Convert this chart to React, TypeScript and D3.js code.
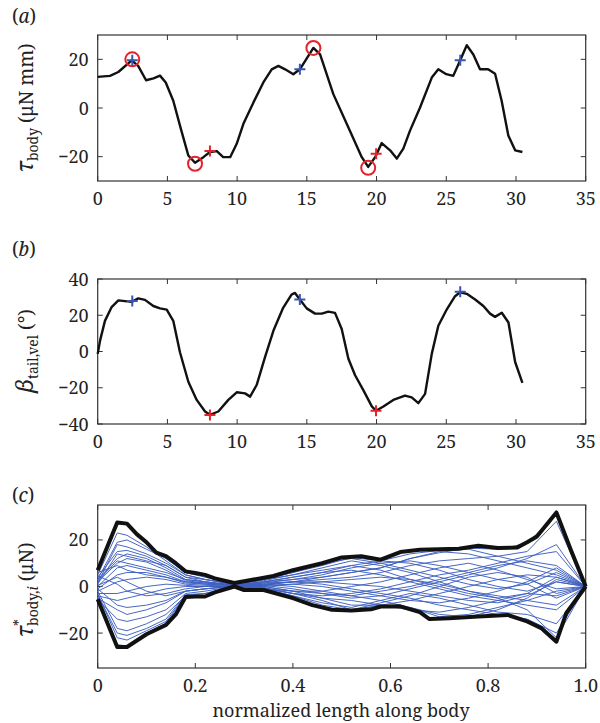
import React from "react";
import * as d3 from "d3";

// ---------- DATA ----------
// Panel (a): body torque vs time
const aTime = [0, 0.88, 1.48, 2.44, 2.9, 3.47, 4.0, 4.47, 4.88, 5.42, 6.0, 6.5, 6.98, 7.58, 8.05, 8.54, 9.0, 9.5, 9.97, 10.45, 11.17, 11.88, 12.48, 12.96, 13.44, 14.03, 14.5, 15.47, 15.95, 16.9, 17.86, 18.94, 19.4, 19.9, 20.37, 20.97, 21.45, 21.92, 22.4, 23.12, 23.96, 24.43, 25.0, 25.5, 26.0, 26.47, 26.94, 27.42, 28.0, 28.5, 28.97, 29.45, 29.94, 30.46];
const aTorque = [12.8, 13.2, 14.8, 19.6, 17.3, 11.4, 12.2, 13.3, 10.5, 3, -9.3, -19.5, -22.5, -20.2, -18.1, -17.7, -20.2, -20.2, -14.7, -6.5, 2.3, 10.5, 15.9, 17.3, 15.9, 13.9, 15.9, 24.7, 22, 5.7, -6.5, -20.2, -24.2, -20.2, -14.4, -17.4, -20.8, -16.7, -9.3, 0.2, 12.5, 15.9, 13.9, 13.2, 19.6, 25.8, 22, 15.9, 15.9, 14.1, 3, -11.3, -17.4, -18.1];
const aCircleT = [2.48, 6.98, 15.47, 19.4];
const aCircleV = [20, -22.9, 24.7, -24.6];
const aBlueT = [2.48, 14.5, 26.0];
const aBlueV = [19.6, 15.9, 19.6];
const aRedT = [8.05, 19.97];
const aRedV = [-17.7, -18.8];

// Panel (b): tail velocity angle vs time
const bTime = [0, 0.17, 0.52, 1.0, 1.48, 1.96, 2.44, 2.91, 3.39, 3.99, 4.47, 4.95, 5.42, 5.9, 6.5, 7.1, 7.7, 8.05, 8.65, 9.37, 9.97, 10.57, 10.93, 11.4, 12.0, 12.6, 13.3, 13.9, 14.15, 14.5, 14.99, 15.59, 16.07, 16.54, 17.02, 17.5, 17.98, 18.46, 19.05, 19.66, 19.96, 20.49, 21.2, 22.04, 22.52, 23.0, 23.48, 23.96, 24.43, 25.04, 25.63, 25.99, 26.47, 27.07, 27.66, 28.14, 28.5, 28.98, 29.46, 29.94, 30.46];
const bAngle = [-1.3, 6, 16.9, 24.5, 28.2, 27.8, 27.4, 29.3, 28.5, 25.1, 23.8, 23.1, 16.9, -0.4, -16.7, -26.7, -33.1, -34.9, -33.1, -26.7, -22.5, -23.1, -24.9, -18.5, -3.1, 11.4, 24.1, 31.4, 32.3, 28.7, 23.8, 20.9, 20.9, 22, 21.3, 12.4, -4, -13.1, -21.3, -30.3, -32.7, -30.3, -26.7, -24.3, -25.3, -28.5, -23.4, -1.3, 14.2, 23.3, 30.5, 32.7, 31.8, 28.7, 25.1, 20.9, 19.1, 21.4, 16, -5.8, -17.3];
const bBlueT = [2.48, 14.5, 26.0];
const bBlueV = [27.8, 28.7, 32.9];
const bRedT = [8.05, 19.96];
const bRedV = [-35, -32.7];

// Panel (c): normalized torque along body
const cGrid = [0, 0.04, 0.06, 0.1, 0.14, 0.18, 0.22, 0.28, 0.34, 0.4, 0.46, 0.52, 0.58, 0.64, 0.7, 0.76, 0.82, 0.88, 0.94, 1.0];
const cLines: number[][] = [
  [7, 27, 26.5, 18, 12, 6, 4.5, 1.2, 2.5, 5, 8, 11, 9, 6, 2, -2, -5, -3, 4, 0],
  [5, 23, 22, 17, 11, 5, 3, 1, 3, 6, 9, 12.5, 11, 14, 15.5, 16, 13, 10, 7, 0],
  [4, 15, 15.5, 13, 9, 4, 3, 0.8, 2, 3, 4, 6, 8, 12, 14.5, 16.5, 16, 18.5, 31, 0],
  [3, 12, 14, 12, 8, 3, 2, 0.6, 1, 0, -2, -4, -6, -9, -12, -13, -10, -5, 3, 0],
  [2, 10, 12, 10.5, 7, 2.5, 1.5, 0.5, 0.5, -1, -3, -5, -4, -1, 2, 5, 8, 12, 18, 0],
  [1, 14, 13, 11, 9, 4, 2, 0.7, 2, 4, 6, 7, 5, 2, -1, -4, -6, -8, -10, 0],
  [0, 8, 9, 7, 5, 2, 1, 0.4, 0, -2, -5, -8, -8, -6, -3, 0, 3, 5, 4, 0],
  [-1, 5, 6, 6, 4, 1.5, 1, 0.3, -0.5, -3, -6, -10, -8, -9, -13, -12, -9, -6, -2, 0],
  [-2, 2, 3, 4, 3, 1, 0.5, 0.2, 1, 2, 3, 4, 6, 9, 11, 12, 13, 15, 28, 0],
  [-3, -3, -2, 0, 1, 0.5, 0, 0.1, 1.5, 3, 5, 8, 10, 11, 9, 6, 3, 1, -5, 0],
  [-4, -6, -5, -3, -1, 0, 0, 0, -1, -3, -4, -3, -1, 2, 5, 7, 10, 13, 15, 0],
  [-5, -10, -12, -10, -7, -2, -1, 0, 0.5, 1, 0, -2, -4, -6, -7, -5, -2, 2, 8, 0],
  [-5.5, -14, -15, -13, -10, -3, -2, 0.1, -1, -4, -8, -10, -7, -4, 0, 4, 6, 4, -3, 0],
  [6, 9, 7, 5, 4, 2, 1.5, 0.6, 1.5, 2, 1, -1, -3, -5, -8, -10, -12, -14, -20, 0],
  [4.5, 1, -2, -4, -3, -1, 0, 0.2, 2, 4, 6, 9, 7, 3, 0, -3, -5, -10, -22, 0],
  [-2, -18, -19, -16, -12, -4, -3, 0, -1, -2, -2, 0, 2, 5, 8, 10, 7, 3, -1, 0],
  [-3, -22, -23, -19, -15, -4, -4, 0.1, 0, 1, 2, 3, 4, 3, 1, -2, -4, -6, -8, 0],
  [-4.5, -25, -25.5, -20, -16, -4, -4, 0, -1, -4, -7, -9, -6, -3, -5, -8, -11, -12, -16, 0],
  [1.5, 18, 17, 14, 10, 5, 3, 1, 3, 5, 7, 9, 11, 10, 7, 3, 0, -2, 2, 0],
  [3, 19, 20, 16, 12, 6, 4, 1.2, 3, 6, 10, 12, 10, 7, 4, 1, -1, 1, 6, 0],
  [0.5, 4, 2, -2, -4, -2, -1, 0.3, 0, -2, -3, -4, -2, 0, 3, 6, 9, 11, 9, 0],
  [-1, -8, -9, -8, -6, -2, -1, 0.2, 1, 2, 2, 1, 0, -2, -4, -6, -7, -4, 2, 0],
  [2.5, 11, 10, 8, 6, 3, 2, 0.5, -0.5, -3, -5, -6, -8, -10, -11, -9, -6, -3, -4, 0],
  [-3.5, -20, -21, -18, -14, -3.5, -3, 0, 0.5, 2, 4, 6, 8, 12, 15, 14, 11, 8, 5, 0],
];
const cUpperX = [0, 0.04, 0.06, 0.08, 0.1, 0.12, 0.14, 0.16, 0.18, 0.2, 0.22, 0.24, 0.28, 0.32, 0.36, 0.4, 0.46, 0.5, 0.54, 0.58, 0.62, 0.66, 0.7, 0.74, 0.78, 0.82, 0.86, 0.88, 0.9, 0.94, 0.97, 1.0];
const cUpperV = [7, 27.5, 27, 22.5, 19, 14.5, 13, 10, 6.5, 5.8, 5, 3.5, 1.5, 3, 4.5, 7, 10, 12.5, 13, 11.5, 14.8, 15.8, 16, 16.2, 17.5, 16.5, 16.8, 19, 21.5, 31.8, 15.5, 0];
const cLowerX = [0, 0.04, 0.06, 0.1, 0.14, 0.16, 0.18, 0.2, 0.22, 0.24, 0.28, 0.3, 0.34, 0.4, 0.44, 0.48, 0.52, 0.56, 0.58, 0.62, 0.66, 0.68, 0.72, 0.78, 0.84, 0.88, 0.91, 0.94, 0.96, 1.0];
const cLowerV = [-5.5, -26, -26, -20.5, -16.5, -12, -4.5, -4.3, -4.3, -2.5, 0, -1.5, -1.5, -5, -8, -10, -10.3, -9.8, -8.6, -8.5, -11, -14, -13.6, -12.9, -12.2, -15, -18, -23.7, -11.5, 0];

// Axis ticks
const timeTicks = [0, 5, 10, 15, 20, 25, 30, 35];
const aYTicks = [-20, 0, 20];
const bYTicks = [-40, -20, 0, 20, 40];
const cXTicks = [0, 0.2, 0.4, 0.6, 0.8, 1.0];
const cXTickLabels = ["0", "0.2", "0.4", "0.6", "0.8", "1.0"];
const cYTicks = [-20, 0, 20];

// ---------- STYLE ----------
const FONT = '"Noto Serif", "DejaVu Serif", serif';
const RED = "#e3232b";
const BLUE = "#3856b0";
const LINE_BLUE = "#3d5fc0";
const X0 = 97.7;
const X1 = 585.7;
const TICK = 5;
const FS = 18;

type Y = d3.ScaleLinear<number, number>;
type X = d3.ScaleLinear<number, number>;

function T(props: any) {
  const { style, ...rest } = props;
  return <text {...rest} style={{ fontFamily: FONT, ...(style || {}) }} />;
}

function Frame({ x, y, xTicks, yTicks, xLabels, labelOffset }: { x: X; y: Y; xTicks: number[]; yTicks: number[]; xLabels: string[]; labelOffset: number }) {
  const [x0, x1] = x.range();
  const [yb, yt] = y.range();
  return (
    <g>
      <rect x={x0} y={yt} width={x1 - x0} height={yb - yt} fill="none" stroke="#333" strokeWidth={1.2} />
      {xTicks.map((t, i) => (
        <g key={"xt" + i}>
          <line x1={x(t)} x2={x(t)} y1={yb} y2={yb - TICK} stroke="#333" strokeWidth={1} />
          <line x1={x(t)} x2={x(t)} y1={yt} y2={yt + TICK} stroke="#333" strokeWidth={1} />
          <T x={x(t)} y={yb + labelOffset} textAnchor="middle" fontSize={FS} fill="#222">{xLabels[i]}</T>
        </g>
      ))}
      {yTicks.map((t, i) => (
        <g key={"yt" + i}>
          <line x1={x0} x2={x0 + TICK} y1={y(t)} y2={y(t)} stroke="#333" strokeWidth={1} />
          <line x1={x1} x2={x1 - TICK} y1={y(t)} y2={y(t)} stroke="#333" strokeWidth={1} />
          <T x={x0 - 9} y={y(t) + 6.5} textAnchor="end" fontSize={FS} fill="#222">{t < 0 ? "\u2212" + Math.abs(t) : String(t)}</T>
        </g>
      ))}
    </g>
  );
}

function Plus({ cx, cy, color }: { cx: number; cy: number; color: string }) {
  const s = 5.5;
  return <path d={`M${cx - s},${cy}H${cx + s}M${cx},${cy - s}V${cy + s}`} stroke={color} strokeWidth={2} fill="none" />;
}

export default function App() {
  const xa = d3.scaleLinear().domain([0, 35]).range([X0, X1]);
  const ya = d3.scaleLinear().domain([-30, 30]).range([181, 35]);
  const yb = d3.scaleLinear().domain([-40, 40]).range([424, 279]);
  const xc = d3.scaleLinear().domain([0, 1]).range([X0, X1]);
  const yc = d3.scaleLinear().domain([-35, 35]).range([668, 505]);

  const lineA = d3.line<number>().x((_, i) => xa(aTime[i])).y((d) => ya(d));
  const lineB = d3.line<number>().x((_, i) => xa(bTime[i])).y((d) => yb(d));
  const lineC = d3.line<number>().x((_, i) => xc(cGrid[i])).y((d) => yc(d));
  const lineUp = d3.line<number>().x((_, i) => xc(cUpperX[i])).y((d) => yc(d));
  const lineLo = d3.line<number>().x((_, i) => xc(cLowerX[i])).y((d) => yc(d));

  const tLabels = timeTicks.map(String);

  return (
    <svg width={600} height={723} style={{ position: "absolute", left: 0, top: 0, background: "#fff", fontFamily: FONT }}>
      {/* Panel (a) */}
      <T x={12} y={23} fontSize={19} fill="#222">(<tspan fontStyle="italic">a</tspan>)</T>
      <Frame x={xa} y={ya} xTicks={timeTicks} yTicks={aYTicks} xLabels={tLabels} labelOffset={24} />
      <path d={lineA(aTorque) || ""} fill="none" stroke="#111" strokeWidth={2.4} strokeLinejoin="round" />
      {aCircleT.map((t, i) => (
        <circle key={"c" + i} cx={xa(t)} cy={ya(aCircleV[i])} r={7} fill="none" stroke={RED} strokeWidth={2} />
      ))}
      {aBlueT.map((t, i) => <Plus key={"ab" + i} cx={xa(t)} cy={ya(aBlueV[i])} color={BLUE} />)}
      {aRedT.map((t, i) => <Plus key={"ar" + i} cx={xa(t)} cy={ya(aRedV[i])} color={RED} />)}
      <T transform="translate(33,108) rotate(-90)" textAnchor="middle" fontSize={19} fill="#222">
        <tspan fontStyle="italic" fontSize={23}>τ</tspan>
        <tspan fontSize={14} dy={5}>body</tspan>
        <tspan dy={-5}> (μN mm)</tspan>
      </T>

      {/* Panel (b) */}
      <T x={12} y={256} fontSize={19} fill="#222">(<tspan fontStyle="italic">b</tspan>)</T>
      <Frame x={xa} y={yb} xTicks={timeTicks} yTicks={bYTicks} xLabels={tLabels} labelOffset={24} />
      <path d={lineB(bAngle) || ""} fill="none" stroke="#111" strokeWidth={2.4} strokeLinejoin="round" />
      {bBlueT.map((t, i) => <Plus key={"bb" + i} cx={xa(t)} cy={yb(bBlueV[i])} color={BLUE} />)}
      {bRedT.map((t, i) => <Plus key={"br" + i} cx={xa(t)} cy={yb(bRedV[i])} color={RED} />)}
      <T transform="translate(33,351) rotate(-90)" textAnchor="middle" fontSize={19} fill="#222">
        <tspan fontStyle="italic" fontSize={23}>β</tspan>
        <tspan fontSize={14} dy={5}>tail,vel</tspan>
        <tspan dy={-5}> (°)</tspan>
      </T>

      {/* Panel (c) */}
      <T x={12} y={502} fontSize={19} fill="#222">(<tspan fontStyle="italic">c</tspan>)</T>
      <Frame x={xc} y={yc} xTicks={cXTicks} yTicks={cYTicks} xLabels={cXTickLabels} labelOffset={24} />
      {cLines.map((vals, i) => (
        <path key={"cl" + i} d={lineC(vals) || ""} fill="none" stroke={LINE_BLUE} strokeWidth={1} opacity={0.95} />
      ))}
      <path d={lineUp(cUpperV) || ""} fill="none" stroke="#111" strokeWidth={4} strokeLinejoin="round" />
      <path d={lineLo(cLowerV) || ""} fill="none" stroke="#111" strokeWidth={4} strokeLinejoin="round" />
      <T transform="translate(33,590) rotate(-90)" textAnchor="middle" fontSize={19} fill="#222">
        <tspan fontStyle="italic" fontSize={23}>τ</tspan>
        <tspan fontSize={14} dy={-9}>*</tspan>
        <tspan fontSize={14} dx={-7} dy={14}>body,</tspan>
        <tspan fontSize={14} fontStyle="italic">i</tspan>
        <tspan dy={-5}> (μN)</tspan>
      </T>
      <T x={341} y={717} textAnchor="middle" fontSize={FS} fill="#222">normalized length along body</T>
    </svg>
  );
}
